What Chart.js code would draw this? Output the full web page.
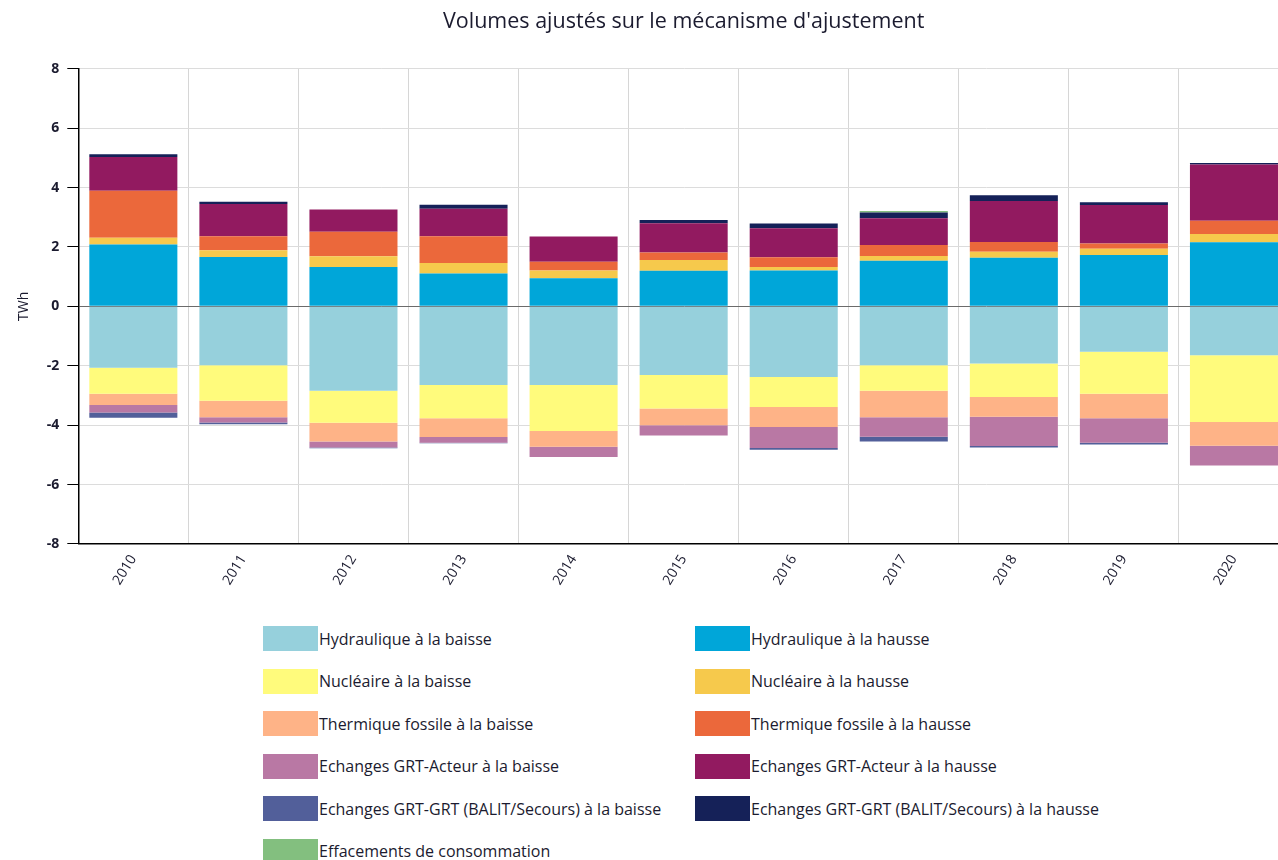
<!DOCTYPE html>
<html>
<head>
<meta charset="utf-8">
<script src="https://cdn.jsdelivr.net/npm/chart.js@4/dist/chart.umd.min.js"></script>
<style>
  html, body { margin: 0; padding: 0; background: #fff; overflow: hidden; width: 1278px; height: 860px; }
  #wrap { position: absolute; left: 0; top: 0; width: 1290px; height: 610px; }
  #legend { position: absolute; left: 263px; top: 626px; display: grid; grid-template-columns: 432px 432px; row-gap: 17.5px; font-family: "Open Sans", sans-serif; font-size: 16px; color: #1b1b2f; }
  .item { display: flex; align-items: center; height: 25px; }
  .box { width: 55px; height: 25px; margin-right: 1px; flex: none; }
</style>
</head>
<body>
<div id="wrap"><canvas id="chart" width="1290" height="610"></canvas></div>
<div id="legend"></div>
<script>
const years = ['2010', '2011', '2012', '2013', '2014', '2015', '2016', '2017', '2018', '2019', '2020'];

// TWh, "baisse" volumes are negative
const hydroDown = [-2.07, -1.98, -2.84, -2.65, -2.65, -2.31, -2.38, -1.98, -1.92, -1.53, -1.65];
const hydroUp = [2.08, 1.66, 1.33, 1.11, 0.95, 1.20, 1.21, 1.54, 1.64, 1.73, 2.16];
const nuclDown = [-0.87, -1.20, -1.08, -1.12, -1.55, -1.13, -1.01, -0.86, -1.13, -1.41, -2.24];
const nuclUp = [0.23, 0.23, 0.36, 0.35, 0.26, 0.36, 0.12, 0.16, 0.20, 0.21, 0.28];
const thermDown = [-0.38, -0.55, -0.63, -0.63, -0.53, -0.56, -0.67, -0.89, -0.67, -0.83, -0.80];
const thermUp = [1.58, 0.47, 0.82, 0.90, 0.29, 0.25, 0.32, 0.37, 0.33, 0.18, 0.44];
const actorDown = [-0.25, -0.18, -0.20, -0.19, -0.34, -0.35, -0.71, -0.66, -0.98, -0.82, -0.67];
const actorUp = [1.14, 1.09, 0.75, 0.93, 0.85, 0.99, 0.98, 0.90, 1.38, 1.29, 1.90];
const grtDown = [-0.18, -0.06, -0.03, -0.02, 0, 0, -0.06, -0.16, -0.05, -0.06, 0];
const grtUp = [0.09, 0.07, 0, 0.13, 0, 0.11, 0.16, 0.19, 0.19, 0.10, 0.05];
const effacements = [0, 0, 0, 0, 0, 0, 0, 0.05, 0, 0, 0];

const series = [
  { label: 'Hydraulique à la baisse', data: hydroDown, color: '#96d0dc' },
  { label: 'Hydraulique à la hausse', data: hydroUp, color: '#00a6d9' },
  { label: 'Nucléaire à la baisse', data: nuclDown, color: '#fffb7c' },
  { label: 'Nucléaire à la hausse', data: nuclUp, color: '#f6c94c' },
  { label: 'Thermique fossile à la baisse', data: thermDown, color: '#feb387' },
  { label: 'Thermique fossile à la hausse', data: thermUp, color: '#eb683b' },
  { label: 'Echanges GRT-Acteur à la baisse', data: actorDown, color: '#b978a4' },
  { label: 'Echanges GRT-Acteur à la hausse', data: actorUp, color: '#921a60' },
  { label: 'Echanges GRT-GRT (BALIT/Secours) à la baisse', data: grtDown, color: '#525f9a' },
  { label: 'Echanges GRT-GRT (BALIT/Secours) à la hausse', data: grtUp, color: '#152158' },
  { label: 'Effacements de consommation', data: effacements, color: '#83bf7f' },
];

new Chart(document.getElementById('chart'), {
  type: 'bar',
  data: {
    labels: years,
    datasets: series.map((s) => ({
      label: s.label,
      data: s.data,
      backgroundColor: s.color,
      borderWidth: 0,
      categoryPercentage: 1,
      barPercentage: 0.8,
    })),
  },
  options: {
    responsive: false,
    animation: false,
    layout: { padding: { left: 16, right: 1, top: 0, bottom: 14 } },
    plugins: {
      legend: { display: false },
      tooltip: { enabled: false },
      title: {
        display: true,
        text: "Volumes ajustés sur le mécanisme d'ajustement",
        fullSize: false,
        color: '#1b1b2f',
        font: { family: 'Open Sans', size: 21.5, weight: 'normal' },
        padding: { top: 9, bottom: 34 },
      },
    },
    scales: {
      x: {
        stacked: true,
        grid: { offset: true, color: '#d6d6d6', drawTicks: false },
        border: { color: '#000', width: 1.5 },
        ticks: {
          color: '#1b1b2f',
          font: { family: 'Open Sans', size: 14 },
          maxRotation: 58,
          minRotation: 58,
          padding: 8,
        },
      },
      y: {
        stacked: true,
        min: -8,
        max: 8,
        ticks: {
          stepSize: 2,
          color: '#1b1b2f',
          font: { family: 'Open Sans', size: 14, weight: 'bold' },
          padding: 8,
        },
        grid: {
          color: (ctx) => (ctx.tick && ctx.tick.value === 0 ? '#6b6b6b' : '#dcdcdc'),
          tickColor: '#000',
          tickLength: 11,
        },
        border: { color: '#000', width: 1.5 },
        title: {
          display: true,
          text: 'TWh',
          color: '#1b1b2f',
          font: { family: 'Open Sans', size: 14 },
          padding: { top: 0, bottom: 6 },
        },
      },
    },
  },
});

// two-column legend: "baisse" on the left, "hausse" on the right
const legend = document.getElementById('legend');
series.forEach((s) => {
  const item = document.createElement('div');
  item.className = 'item';
  item.innerHTML = `<span class="box" style="background:${s.color}"></span><span>${s.label}</span>`;
  legend.appendChild(item);
});
</script>
</body>
</html>
